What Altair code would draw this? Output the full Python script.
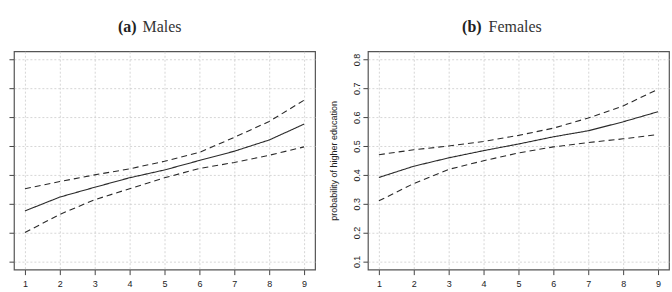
import altair as alt
import pandas as pd

x_vals = [1, 2, 3, 4, 5, 6, 7, 8, 9]

male_fit = [0.275, 0.323, 0.357, 0.390, 0.417, 0.450, 0.482, 0.521, 0.576]
male_lo = [0.200, 0.263, 0.314, 0.352, 0.390, 0.422, 0.443, 0.468, 0.497]
male_hi = [0.352, 0.377, 0.400, 0.421, 0.447, 0.478, 0.530, 0.585, 0.659]

female_fit = [0.391, 0.430, 0.459, 0.484, 0.507, 0.532, 0.553, 0.584, 0.619]
female_lo = [0.310, 0.370, 0.419, 0.449, 0.476, 0.497, 0.512, 0.525, 0.540]
female_hi = [0.470, 0.487, 0.500, 0.516, 0.537, 0.562, 0.597, 0.639, 0.697]

y_ticks = [0.1, 0.2, 0.3, 0.4, 0.5, 0.6, 0.7, 0.8]
y_title = "probability of higher education"


def make_df(fit, lo, hi):
    rows = []
    for name, vals in [("fit", fit), ("lower", lo), ("upper", hi)]:
        for xv, yv in zip(x_vals, vals):
            rows.append({"x": xv, "y": yv, "series": name})
    return pd.DataFrame(rows)


AX_COL = "#444444"
TXT_COL = "#222222"
W, H = 302, 219


def panel(df, letter, name, letter_x, name_x, show_labels):
    xenc = alt.X(
        "x:Q",
        scale=alt.Scale(domain=[0.685, 9.315], nice=False, zero=False),
        axis=alt.Axis(
            values=x_vals, title=None, format="d", domain=False,
            grid=True, gridDash=[2, 2], gridColor="#cccccc", gridWidth=0.8,
            tickSize=5, tickColor=AX_COL, labelPadding=5,
            labelFontSize=9, labelColor=TXT_COL, labelFont="Liberation Sans",
        ),
    )
    yaxis_kwargs = dict(
        values=y_ticks, domain=False, format=".1f",
        grid=True, gridDash=[2, 2], gridColor="#cccccc", gridWidth=0.8,
        tickSize=5, tickColor=AX_COL,
        labelFontSize=9, labelColor=TXT_COL, labelFont="Liberation Sans",
        labelAngle=-90, labelPadding=1,
    )
    if show_labels:
        yaxis_kwargs.update(
            title=y_title, titleFontSize=9, titleFont="Liberation Sans",
            titleFontWeight="normal", titleColor=TXT_COL, titlePadding=14,
            labels=True,
        )
    else:
        yaxis_kwargs.update(title=None, labels=False)
    yenc = alt.Y(
        "y:Q",
        scale=alt.Scale(domain=[0.0714, 0.8286], nice=False, zero=False),
        axis=alt.Axis(**yaxis_kwargs),
    )
    lines = alt.Chart(df).mark_line(strokeWidth=1.1, color="#2a2a2a").encode(
        x=xenc,
        y=yenc,
        detail="series:N",
        strokeDash=alt.StrokeDash(
            "series:N",
            scale=alt.Scale(domain=["fit", "lower", "upper"],
                            range=[[1, 0], [6, 4], [6, 4]]),
            legend=None,
        ),
    )
    tdf = pd.DataFrame({"t": [0]})
    t1 = alt.Chart(tdf).mark_text(
        text=letter, font="Liberation Serif", fontSize=16, fontWeight="bold",
        align="right", baseline="alphabetic", color="#222222",
    ).encode(x=alt.value(letter_x), y=alt.value(-19))
    t2 = alt.Chart(tdf).mark_text(
        text=name, font="Liberation Serif", fontSize=16,
        align="left", baseline="alphabetic", color="#333333",
    ).encode(x=alt.value(name_x), y=alt.value(-19))
    return alt.layer(lines, t1, t2).properties(width=W, height=H)


left = panel(make_df(male_fit, male_lo, male_hi), "(a)", "Males", 123, 129, False)
right = panel(make_df(female_fit, female_lo, female_hi), "(b)", "Females", 114, 121, True)

chart = alt.hconcat(left, right, spacing=13).properties(
    padding={"left": 7, "top": 18, "right": 2, "bottom": 2},
    background="white",
).configure_view(
    stroke="#555555", strokeWidth=1.2
)

chart.save("out.html", embed_options={"renderer": "svg", "actions": False})
